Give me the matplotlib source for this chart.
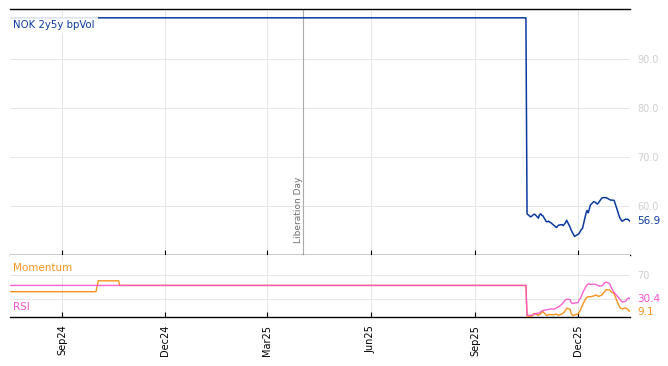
import matplotlib
matplotlib.use('Agg')
import matplotlib.pyplot as plt
import matplotlib.dates as mdates
import matplotlib.transforms as mtransforms
import matplotlib.ticker as mticker
import pandas as pd

# ---------------- data ----------------
series_label = 'NOK 2y5y bpVol'
event_label = 'Liberation Day'
event_date = '2025-04-02'

# flat stretch (breakpoints) of the vol series and RSI
flat_dates = ['2024-07-17', '2025-10-16']
vol_flat = [98.4, 98.4]
rsi_flat = [52.4, 52.4]

# momentum breakpoints over the flat stretch
mom_flat_dates = ['2024-07-17', '2024-10-01', '2024-10-03', '2024-10-21', '2024-10-22', '2025-10-16']
mom_flat = [42.0, 42.0, 60.1, 60.1, 52.4, 52.4]

# daily (business day) tail, 2025-10-17 .. 2026-01-16
tail_start = '2025-10-17'
tail_end = '2026-01-16'
vol_tail = [58.4, 57.8, 57.9, 58.1, 58.3, 58.3, 57.5, 58.2, 58.4, 58.1, 58.0,
            56.8, 56.8, 56.9, 56.7, 56.6,
            56.0, 55.8, 55.6, 55.9, 56.1,
            56.2, 56.0, 56.3, 56.6, 57.1,
            55.7, 55.1, 54.6, 54.2, 53.8,
            54.2, 54.4, 54.8, 55.2, 55.4,
            58.4, 59.1, 58.6, 59.3, 60.2,
            60.9, 60.8, 60.6, 60.4, 60.6,
            61.6, 61.7, 61.7, 61.7, 61.7,
            61.3, 61.2, 61.2, 61.2, 61.1,
            59.0, 58.2, 57.6, 57.2, 56.9,
            57.3, 57.3, 57.3, 57.1, 56.9]
rsi_tail = [3.0, 2.5, 3.1, 3.5, 4.2, 5.5, 6.3, 6.9, 8.5, 9.7, 10.8,
            11.8, 12.0, 12.6, 13.0, 13.5,
            13.0, 14.0, 15.2, 16.0, 17.0,
            21.5, 24.0, 26.0, 28.5, 29.5,
            29.0, 24.0, 22.5, 22.5, 23.2,
            24.0, 28.0, 30.5, 34.0, 39.5,
            50.5, 53.0, 55.0, 55.0, 54.0,
            54.5, 54.5, 53.8, 53.0, 51.5,
            51.5, 53.0, 56.0, 57.2, 57.9,
            55.5, 51.0, 47.0, 43.5, 41.0,
            34.0, 31.8, 29.5, 27.0, 25.0,
            26.0, 28.5, 31.0, 31.5, 30.4]
mom_tail = [1.0, 0.5, 1.0, 3.0, 6.0, 5.5, 3.0, 3.8, 5.5, 7.5, 9.0,
            3.0, 2.6, 3.8, 4.2, 3.8,
            4.0, 4.8, 4.6, 3.5, 3.0,
            5.2, 6.5, 8.5, 11.5, 14.5,
            13.0, 6.0, 3.0, 2.6, 3.5,
            5.0, 8.0, 11.0, 15.0, 20.0,
            31.0, 32.5, 33.5, 33.8, 33.5,
            35.0, 36.0, 36.5, 35.5, 34.0,
            36.5, 38.5, 40.5, 43.0, 45.5,
            45.0, 43.0, 41.0, 40.3, 38.5,
            24.0, 20.0, 16.0, 14.5, 13.5,
            15.0, 14.0, 12.4, 10.5, 9.1]

y_ticks_main = [60, 70, 80, 90]
y_ticks_osc = [30, 70]
y_ticklabels_osc = ['', '70']
x_tick_dates = ['2024-09-01', '2024-12-01', '2025-03-01', '2025-06-01', '2025-09-01', '2025-12-01']

# ---------------- build ----------------
tail_idx = pd.bdate_range(tail_start, tail_end)
d_flat = pd.to_datetime(flat_dates)
d_mom = pd.to_datetime(mom_flat_dates)
vol_x = list(d_flat) + list(tail_idx)
vol_y = vol_flat + vol_tail
rsi_x = list(d_flat) + list(tail_idx)
rsi_y = rsi_flat + rsi_tail
mom_x = list(d_mom) + list(tail_idx)
mom_y = mom_flat + mom_tail

BLUE = '#0b3a9e'
PINK = '#fb4fcf'
ORANGE = '#f7931e'
GRID = '#e6e6e6'
TICKGRAY = '#cfcfcf'

plt.rcParams['font.family'] = ['DejaVu Sans']

fig = plt.figure(figsize=(6.68, 3.66), dpi=100)
W, H = 668, 366
ax1 = fig.add_axes([10 / W, (H - 255) / H, 620 / W, 246 / H])
ax2 = fig.add_axes([10 / W, (H - 317) / H, 620 / W, 62 / H], sharex=ax1)

# main panel
ax1.plot(vol_x, vol_y, color=BLUE, lw=1.1, zorder=3)
ax1.set_ylim(50.0, 100.2)
ax1.set_yticks(y_ticks_main)
ax1.yaxis.set_major_formatter(mticker.FormatStrFormatter('%.1f'))
ax1.yaxis.tick_right()
ax1.tick_params(axis='y', length=0, pad=5, labelsize=7, labelcolor=TICKGRAY)
ax1.tick_params(axis='x', direction='in', length=3.6, width=0.8, labelbottom=False, color='black')
ax1.grid(True, color=GRID, lw=0.7, zorder=0)
for s in ['left', 'right']:
    ax1.spines[s].set_visible(False)
ax1.spines['top'].set_linewidth(1.0)
ax1.spines['bottom'].set_linewidth(1.0)

ev = pd.Timestamp(event_date)
ax1.axvline(ev, color='#aaaaaa', lw=0.8, zorder=2)
ax1.text(ev, 52.5, event_label, rotation=90, fontsize=6.5, color='#6e6e6e',
         ha='right', va='bottom', transform=ax1.transData)
ax1.annotate(series_label, xy=(0, 1), xycoords='axes fraction', xytext=(3, -11),
             textcoords='offset pixels', ha='left', va='top', fontsize=7.3, color=BLUE,
             zorder=5, bbox=dict(boxstyle='square,pad=0.3', fc='white', ec='none', alpha=0.85))
trans1 = mtransforms.blended_transform_factory(ax1.transAxes, ax1.transData)
ax1.annotate(f'{vol_y[-1]:.1f}', xy=(1, vol_y[-1]), xycoords=trans1, xytext=(7, 0),
             textcoords='offset pixels', ha='left', va='center', fontsize=7.5, color=BLUE)

# oscillator panel
ax2.plot(mom_x, mom_y, color=ORANGE, lw=1.0, zorder=3)
ax2.plot(rsi_x, rsi_y, color=PINK, lw=1.0, zorder=3, alpha=0.9)
ax2.set_ylim(0, 102.9)
ax2.set_yticks(y_ticks_osc)
ax2.set_yticklabels(y_ticklabels_osc)
ax2.yaxis.tick_right()
ax2.tick_params(axis='y', length=0, pad=5, labelsize=7, labelcolor=TICKGRAY)
ax2.grid(True, color=GRID, lw=0.7, zorder=0)
for s in ['left', 'right', 'top']:
    ax2.spines[s].set_visible(False)
ax2.spines['bottom'].set_linewidth(1.0)
ax2.annotate('Momentum', xy=(0, 1), xycoords='axes fraction', xytext=(3, -8),
             textcoords='offset pixels', ha='left', va='top', fontsize=7.5, color=ORANGE,
             zorder=5, bbox=dict(boxstyle='square,pad=0.2', fc='white', ec='none', alpha=0.85))
ax2.annotate('RSI', xy=(0, 0), xycoords='axes fraction', xytext=(3, 5),
             textcoords='offset pixels', ha='left', va='bottom', fontsize=7.5, color=PINK,
             zorder=5, bbox=dict(boxstyle='square,pad=0.2', fc='white', ec='none', alpha=0.85))
trans2 = mtransforms.blended_transform_factory(ax2.transAxes, ax2.transData)
ax2.annotate(f'{rsi_y[-1]:.1f}', xy=(1, rsi_y[-1]), xycoords=trans2, xytext=(7, 0),
             textcoords='offset pixels', ha='left', va='center', fontsize=7.5, color=PINK)
ax2.annotate(f'{mom_y[-1]:.1f}', xy=(1, mom_y[-1]), xycoords=trans2, xytext=(7, 0),
             textcoords='offset pixels', ha='left', va='center', fontsize=7.5, color=ORANGE)

ax2.set_xlim(pd.Timestamp(flat_dates[0]), pd.Timestamp(tail_end))
ax2.set_xticks(pd.to_datetime(x_tick_dates))
ax2.xaxis.set_major_formatter(mdates.DateFormatter('%b%y'))
ax2.tick_params(axis='x', direction='in', length=3.6, width=0.8, labelsize=7,
                labelrotation=90, pad=5.5, color='black')

fig.savefig('out.png', dpi=100)
